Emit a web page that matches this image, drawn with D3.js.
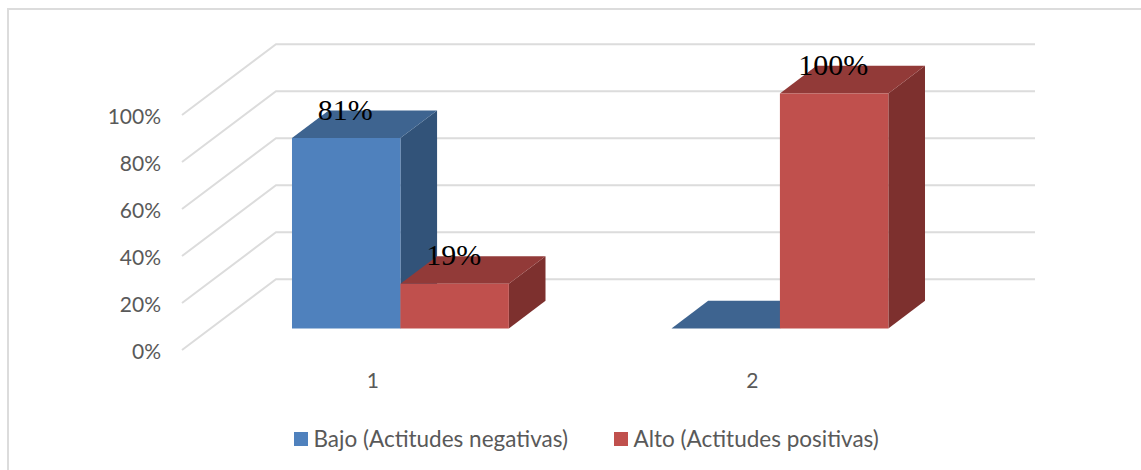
<!DOCTYPE html>
<html>
<head>
<meta charset="utf-8">
<script src="https://cdn.jsdelivr.net/npm/d3@7"></script>
<style>
  html, body { margin: 0; padding: 0; background: #fff; overflow: hidden; }
  svg { display: block; }
  text { font-family: Lato, "Open Sans", sans-serif; }
</style>
</head>
<body>
<div id="chart"></div>
<script>
const categories = ["1", "2"];
const seriesNames = ["Bajo (Actitudes negativas)", "Alto (Actitudes positivas)"];
const bajoValues = [0.81, 0];
const altoValues = [0.19, 1];
const yTicks = [0, 0.2, 0.4, 0.6, 0.8, 1];

const W = 1141, H = 470;
const GRID = "#dcdcdc";
const TEXT = "#595959";
const FACES = [
  { front: "#4f81bd", top: "#3e6490", side: "#325379" },
  { front: "#c0504d", top: "#923a38", side: "#7d302e" }
];

// oblique projection: depth 0 is the front of the floor, 1 the back wall
const DEPTH_X = 94, DEPTH_Y = 70.7;
const BAR_NEAR = 0.305, BAR_FAR = 0.695;

const x0 = d3.scaleBand().domain(categories).range([182, 941]);
const x1 = d3.scaleBand().domain(d3.range(seriesNames.length))
  .range([0, x0.bandwidth()]).paddingOuter(0.75).paddingInner(0);
const y = d3.scaleLinear().domain([0, 1]).range([350, 115]);

const px = (x, z) => x + z * DEPTH_X;
const py = (v, z) => y(v) - z * DEPTH_Y;

const svg = d3.select("#chart").append("svg").attr("width", W).attr("height", H);

// outer frame runs off the right and bottom of the picture
svg.append("rect")
  .attr("x", 8).attr("y", 9).attr("width", W + 20).attr("height", H + 20)
  .attr("fill", "#fff").attr("stroke", GRID).attr("stroke-width", 2);

// Walls
const grid = svg.append("g").attr("fill", "none").attr("stroke", GRID).attr("stroke-width", 2);
yTicks.forEach(t => {
  const [a, b] = x0.range();
  grid.append("path").attr("d", d3.line()([
    [px(a, 0), py(t, 0)],
    [px(a, 1), py(t, 1)],
    [px(b, 1), py(t, 1)]
  ]));
});

// Axes
const yAxis = svg.append("g")
  .attr("transform", `translate(${x0.range()[0] - 14},1.5)`)
  .call(d3.axisLeft(y).tickValues(yTicks).tickFormat(d3.format(".0%")).tickSize(0).tickPadding(7));
const xAxis = svg.append("g")
  .attr("transform", "translate(1,365)")
  .call(d3.axisBottom(x0).tickSize(0).tickPadding(8));
[yAxis, xAxis].forEach(a => {
  a.select(".domain").remove();
  a.selectAll("text").attr("font-size", 21).attr("fill", TEXT).style("font-family", "Lato");
});

// Bars, first series behind second
function drawBar(g, x, w, v, c) {
  const poly = pts => d3.line()(pts) + "Z";
  const l = px(x, BAR_NEAR), r = px(x + w, BAR_NEAR);
  const ll = px(x, BAR_FAR), rr = px(x + w, BAR_FAR);
  const base = py(0, BAR_NEAR), top = py(v, BAR_NEAR);
  const baseFar = py(0, BAR_FAR), topFar = py(v, BAR_FAR);
  if (v > 0) {
    g.append("path").attr("fill", c.side).attr("d", poly([[r, base], [r, top], [rr, topFar], [rr, baseFar]]));
  }
  g.append("path").attr("fill", c.top).attr("d", poly([[l, top], [r, top], [rr, topFar], [ll, topFar]]));
  if (v > 0) {
    g.append("path").attr("fill", c.front).attr("d", poly([[l, base], [r, base], [r, top], [l, top]]));
  }
}

const seriesValues = [bajoValues, altoValues];
const bars = svg.append("g");
categories.forEach((cat, i) => {
  seriesValues.forEach((vals, s) => {
    drawBar(bars, x0(cat) + x1(s), x1.bandwidth(), vals[i], FACES[s]);
  });
});

// Data labels
const labels = svg.append("g")
  .attr("text-anchor", "middle").attr("fill", "#000");
categories.forEach((cat, i) => {
  seriesValues.forEach((vals, s) => {
    if (vals[i] === 0) return;
    labels.append("text")
      .attr("x", px(x0(cat) + x1(s) + x1.bandwidth() / 2, BAR_NEAR) - 1)
      .attr("y", py(vals[i], BAR_NEAR) - 18.5)
      .attr("font-size", 30)
      .style("font-family", '"Liberation Serif", serif')
      .text(d3.format(".0%")(vals[i]));
  });
});

// Legend
const legendX = [294, 614];
const legend = svg.append("g");
seriesNames.forEach((name, s) => {
  legend.append("rect")
    .attr("x", legendX[s]).attr("y", 432).attr("width", 14).attr("height", 14)
    .attr("fill", FACES[s].front);
  legend.append("text")
    .attr("x", legendX[s] + 19.5).attr("y", 446.5)
    .attr("font-size", 22.5).attr("fill", TEXT)
    .text(name);
});
</script>
</body>
</html>
